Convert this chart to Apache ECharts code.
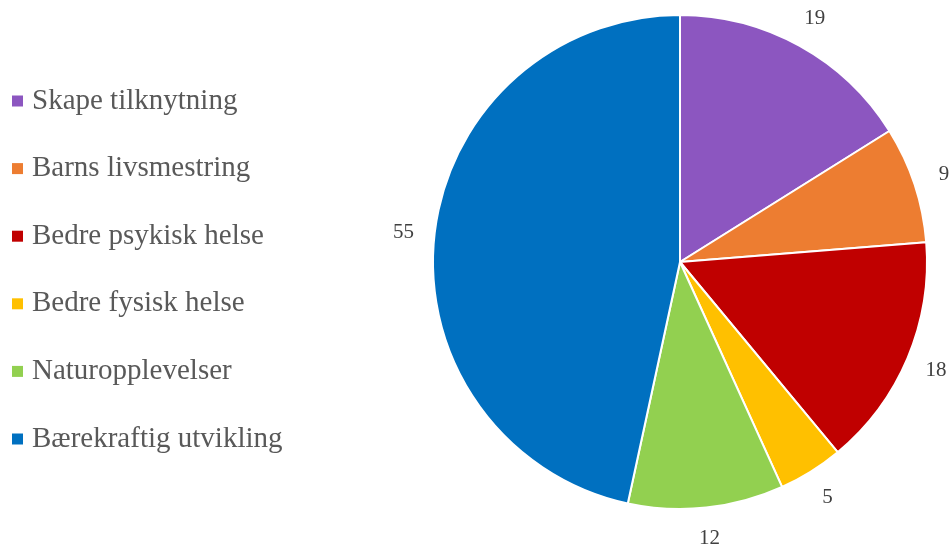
<!DOCTYPE html>
<html>
<head>
<meta charset="utf-8">
<script src="https://cdn.jsdelivr.net/npm/echarts@6/dist/echarts.min.js"></script>
<style>html,body{margin:0;padding:0;background:#fff}#c{width:950px;height:547px}</style>
</head>
<body>
<div id="c"></div>
<script>
const categories = ["Skape tilknytning", "Barns livsmestring", "Bedre psykisk helse", "Bedre fysisk helse", "Naturopplevelser", "Bærekraftig utvikling"];
const values = [19, 9, 18, 5, 12, 55];
const colors = ["#8C56C0", "#ED7D31", "#C00000", "#FFC000", "#92D050", "#0070C0"];

const data = categories.map((n, i) => ({ name: n, value: values[i], itemStyle: { color: colors[i] } }));
const chart = echarts.init(document.getElementById('c'));
chart.setOption({
  animation: false,
  legend: {
    orient: 'vertical',
    left: 12,
    top: 86,
    padding: 0,
    itemWidth: 11,
    itemHeight: 11,
    itemGap: 37.6,
    icon: 'rect',
    itemStyle: { borderWidth: 0 },
    data: categories,
    textStyle: { fontFamily: 'Liberation Serif', fontSize: 29, lineHeight: 30, color: '#595959', padding: [0, 0, 0, 4] }
  },
  series: [
    {
      type: 'pie',
      center: [680, 262],
      radius: [0, 247],
      startAngle: 90,
      clockwise: true,
      label: { show: false },
      labelLine: { show: false },
      itemStyle: { borderColor: '#fff', borderWidth: 2 },
      emphasis: { disabled: true },
      data: data
    },
    {
      type: 'pie',
      silent: true,
      center: [680, 262],
      radius: [264, 286],
      startAngle: 90,
      clockwise: true,
      itemStyle: { color: 'rgba(0,0,0,0)' },
      label: { show: true, position: 'inside', formatter: '{c}', fontFamily: 'Liberation Serif', fontSize: 21, color: '#404040' },
      labelLine: { show: false },
      emphasis: { disabled: true },
      data: categories.map((n, i) => ({ name: n, value: values[i] }))
    }
  ]
});
</script>
</body>
</html>
